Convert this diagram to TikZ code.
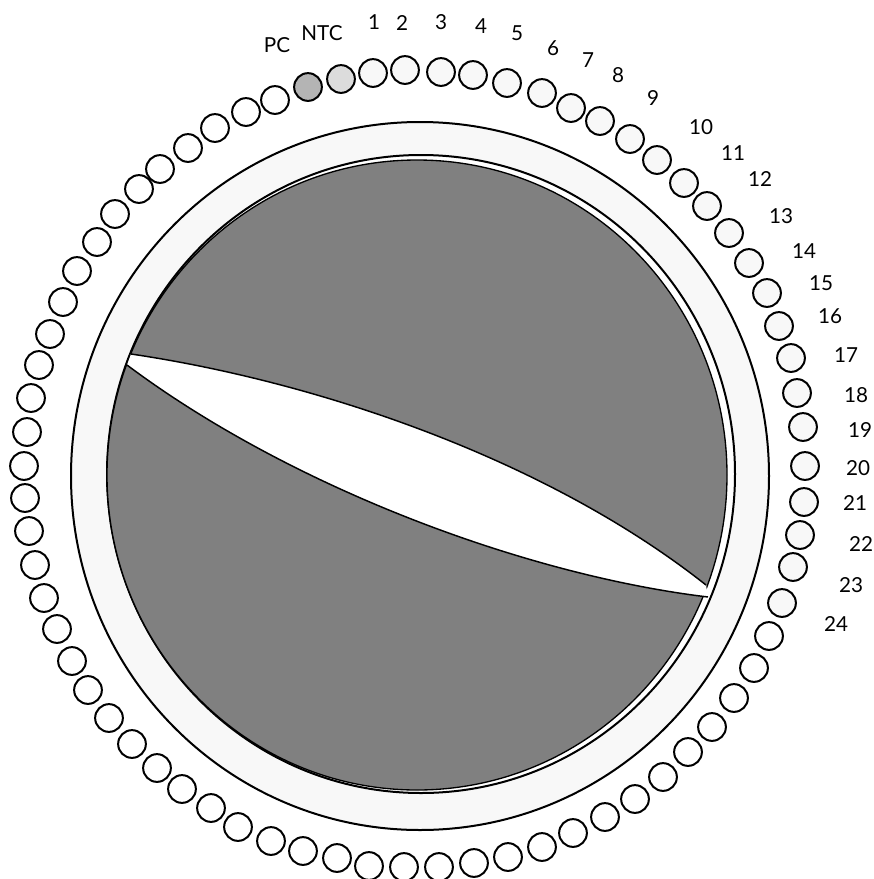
\documentclass[tikz,border=0pt]{standalone}
\usepackage{fontspec}
\setmainfont{Lato}
\definecolor{rotorgray}{HTML}{808080}
\definecolor{ringwhite}{HTML}{F8F8F8}
\definecolor{pcgray}{HTML}{B4B4B4}
\definecolor{ntcgray}{HTML}{DCDCDC}
\tikzset{
  tube/.style={circle,draw=black,line width=1.5pt,minimum size=20.8pt,inner sep=0pt,fill=white},
  numtube/.style={tube,fill=ringwhite},
  tubelabel/.style={font=\fontsize{15.5}{15.5}\selectfont,text=black,inner sep=0pt}
}
\begin{document}
\begin{tikzpicture}[x=0.75pt,y=-0.75pt]
  \useasboundingbox (0,0) rectangle (874,879);
  % Rotor rings
  \fill[white] (0,0) rectangle (874,879);
  \draw[fill=ringwhite,line width=1.5pt] (420,476) ellipse [x radius=349,y radius=354];
  \draw[fill=white,line width=1.5pt] (421,474) ellipse [x radius=314,y radius=319];
  \draw[fill=rotorgray,line width=1pt] (417,475) ellipse [x radius=310,y radius=315];
  % White slot across the rotor
  \fill[white] (131,354) .. controls (320,382) and (548,460) .. (706,585)
    -- (708,597) .. controls (525,575) and (290,487) .. (127,365) -- cycle;
  \draw[line width=1.1pt] (131,354) .. controls (320,382) and (548,460) .. (706,585);
  \draw[line width=1.1pt] (708,597) .. controls (525,575) and (290,487) .. (127,365);
  % Numbered tubes with labels
  \foreach \tx/\ty/\lx/\ly/\t in {373/73/374/22/1,405/70/402/23/2,441/72/441/22/3,473/75/481/26/4,
      507/83/517/33/5,542/93/553/48/6,571/108/588/60/7,600/121/618/75/8,630/139/653/98/9,
      657/160/701/127/10,684/183/733/153/11,707/206/760/179/12,729/233/781/216/13,749/263/804/251/14,
      767/293/821/283/15,779/326/830/316/16,791/358/846/355/17,797/393/856/395/18,803/427/860/430/19,
      805/466/858/468/20,804/502/855/503/21,800/535/861/544/22,793/567/851/585/23,782/603/836/624/24}{
    \node[numtube] (tube\t) at (\tx,\ty) {};
    \node[tubelabel] (label\t) at (\lx,\ly) {\t};
  }
  % Plain tubes
  \foreach \tx/\ty [count=\n from 25] in {769/636,754/668,734/698,712/727,688/752,663/777,635/799,
      605/817,573/833,542/847,508/857,474/863,439/867,404/867,369/866,337/858,303/851,271/841,
      238/827,211/808,182/789,157/768,132/744,109/718,88/690,72/661,57/629,44/598,35/565,29/531,
      25/498,24/466,27/432,31/398,39/365,50/334,63/302,77/271,97/242,115/214,139/189,160/169,
      188/148,215/128,246/112,275/100}{
    \node[tube] (tube\n) at (\tx,\ty) {};
  }
  % Controls
  \node[tube,fill=pcgray] (tubePC) at (308,87) {};
  \node[tube,fill=ntcgray] (tubeNTC) at (341,79) {};
  \node[tubelabel] (labelPC) at (277,45) {PC};
  \node[tubelabel] (labelNTC) at (322,33) {NTC};
\end{tikzpicture}
\end{document}
